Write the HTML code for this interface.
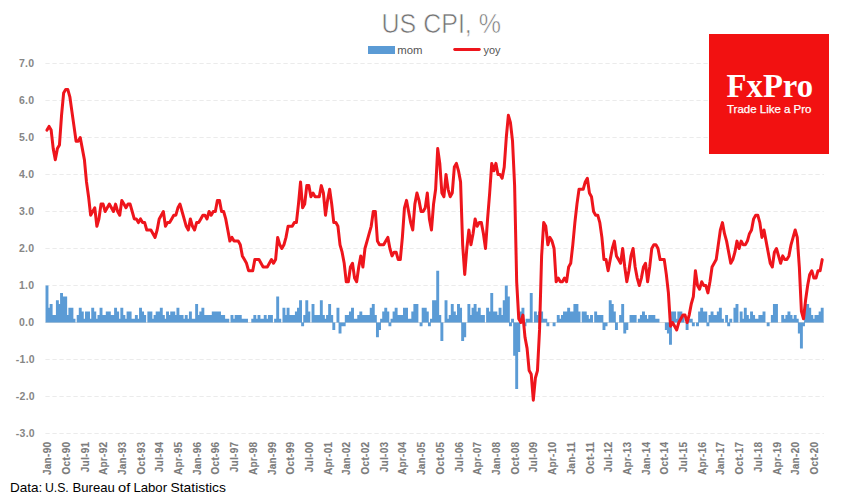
<!DOCTYPE html>
<html><head><meta charset="utf-8"><title>US CPI</title>
<style>html,body{margin:0;padding:0;background:#fff;}body{width:860px;height:500px;position:relative;overflow:hidden;font-family:"Liberation Sans",sans-serif;}</style></head>
<body>
<svg width="860" height="500" viewBox="0 0 860 500" style="position:absolute;left:0;top:0">
<rect width="860" height="500" fill="#fff"/>
<line x1="45.4" x2="824.0" y1="433.50" y2="433.50" stroke="#ebebeb" stroke-width="1" stroke-dasharray="4.3 2.7"/>
<line x1="45.4" x2="824.0" y1="396.50" y2="396.50" stroke="#ebebeb" stroke-width="1" stroke-dasharray="4.3 2.7"/>
<line x1="45.4" x2="824.0" y1="359.50" y2="359.50" stroke="#ebebeb" stroke-width="1" stroke-dasharray="4.3 2.7"/>
<line x1="45.4" x2="824.0" y1="322.50" y2="322.50" stroke="#d9d9d9" stroke-width="1"/>
<line x1="45.4" x2="824.0" y1="285.50" y2="285.50" stroke="#ebebeb" stroke-width="1" stroke-dasharray="4.3 2.7"/>
<line x1="45.4" x2="824.0" y1="248.50" y2="248.50" stroke="#ebebeb" stroke-width="1" stroke-dasharray="4.3 2.7"/>
<line x1="45.4" x2="824.0" y1="211.50" y2="211.50" stroke="#ebebeb" stroke-width="1" stroke-dasharray="4.3 2.7"/>
<line x1="45.4" x2="824.0" y1="174.50" y2="174.50" stroke="#ebebeb" stroke-width="1" stroke-dasharray="4.3 2.7"/>
<line x1="45.4" x2="824.0" y1="137.50" y2="137.50" stroke="#ebebeb" stroke-width="1" stroke-dasharray="4.3 2.7"/>
<line x1="45.4" x2="824.0" y1="100.50" y2="100.50" stroke="#ebebeb" stroke-width="1" stroke-dasharray="4.3 2.7"/>
<line x1="45.4" x2="824.0" y1="63.50" y2="63.50" stroke="#ebebeb" stroke-width="1" stroke-dasharray="4.3 2.7"/>
<path d="M45.53 322.50H48.45V285.50H45.53ZM47.61 322.50H50.53V307.70H47.61ZM49.69 322.50H52.60V304.00H49.69ZM51.76 322.50H54.68V315.10H51.76ZM53.84 322.50H56.76V315.10H53.84ZM55.92 322.50H58.84V300.30H55.92ZM58.00 322.50H60.92V304.00H58.00ZM60.08 322.50H63.00V292.90H60.08ZM62.16 322.50H65.07V296.60H62.16ZM64.23 322.50H67.15V296.60H64.23ZM66.31 322.50H69.23V315.10H66.31ZM68.39 322.50H71.31V307.70H68.39ZM70.47 322.50H73.39V307.70H70.47ZM72.55 322.50H75.47V318.80H72.55ZM76.70 322.50H79.62V315.10H76.70ZM78.78 322.50H81.70V307.70H78.78ZM80.86 322.50H83.78V311.40H80.86ZM82.94 322.50H85.86V318.80H82.94ZM85.02 322.50H87.94V311.40H85.02ZM87.10 322.50H90.01V311.40H87.10ZM89.17 322.50H92.09V318.80H89.17ZM91.25 322.50H94.17V307.70H91.25ZM93.33 322.50H96.25V311.40H93.33ZM95.41 322.50H98.33V318.80H95.41ZM97.49 322.50H100.41V315.10H97.49ZM99.57 322.50H102.48V307.70H99.57ZM101.64 322.50H104.56V315.10H101.64ZM103.72 322.50H106.64V315.10H103.72ZM105.80 322.50H108.72V311.40H105.80ZM107.88 322.50H110.80V311.40H107.88ZM109.96 322.50H112.88V315.10H109.96ZM112.04 322.50H114.95V315.10H112.04ZM114.11 322.50H117.03V307.70H114.11ZM116.19 322.50H119.11V311.40H116.19ZM118.27 322.50H121.19V318.80H118.27ZM120.35 322.50H123.27V307.70H120.35ZM122.43 322.50H125.35V315.10H122.43ZM124.51 322.50H127.42V318.80H124.51ZM126.58 322.50H129.50V311.40H126.58ZM128.66 322.50H131.58V311.40H128.66ZM130.74 322.50H133.66V318.80H130.74ZM132.82 322.50H135.74V318.80H132.82ZM134.90 322.50H137.82V315.10H134.90ZM136.98 322.50H139.89V318.80H136.98ZM139.05 322.50H141.97V307.70H139.05ZM141.13 322.50H144.05V311.40H141.13ZM143.21 322.50H146.13V315.10H143.21ZM147.37 322.50H150.28V311.40H147.37ZM149.45 322.50H152.36V311.40H149.45ZM151.52 322.50H154.44V318.80H151.52ZM153.60 322.50H156.52V315.10H153.60ZM155.68 322.50H158.60V311.40H155.68ZM157.76 322.50H160.68V311.40H157.76ZM159.84 322.50H162.75V307.70H159.84ZM161.91 322.50H164.83V315.10H161.91ZM163.99 322.50H166.91V318.80H163.99ZM166.07 322.50H168.99V311.40H166.07ZM168.15 322.50H171.07V315.10H168.15ZM170.23 322.50H173.15V311.40H170.23ZM172.31 322.50H175.22V311.40H172.31ZM174.38 322.50H177.30V315.10H174.38ZM176.46 322.50H179.38V307.70H176.46ZM178.54 322.50H181.46V315.10H178.54ZM180.62 322.50H183.54V315.10H180.62ZM182.70 322.50H185.62V318.80H182.70ZM184.78 322.50H187.69V315.10H184.78ZM186.85 322.50H189.77V318.80H186.85ZM188.93 322.50H191.85V311.40H188.93ZM191.01 322.50H193.93V318.80H191.01ZM193.09 322.50H196.01V318.80H193.09ZM195.17 322.50H198.09V304.00H195.17ZM197.25 322.50H200.16V315.10H197.25ZM199.32 322.50H202.24V311.40H199.32ZM201.40 322.50H204.32V307.70H201.40ZM203.48 322.50H206.40V315.10H203.48ZM205.56 322.50H208.48V315.10H205.56ZM207.64 322.50H210.56V315.10H207.64ZM209.72 322.50H212.63V315.10H209.72ZM211.79 322.50H214.71V311.40H211.79ZM213.87 322.50H216.79V311.40H213.87ZM215.95 322.50H218.87V311.40H215.95ZM218.03 322.50H220.95V311.40H218.03ZM220.11 322.50H223.03V315.10H220.11ZM222.19 322.50H225.10V315.10H222.19ZM224.26 322.50H227.18V318.80H224.26ZM226.34 322.50H229.26V318.80H226.34ZM230.50 322.50H233.42V315.10H230.50ZM232.58 322.50H235.50V318.80H232.58ZM234.66 322.50H237.57V315.10H234.66ZM236.73 322.50H239.65V315.10H236.73ZM238.81 322.50H241.73V315.10H238.81ZM240.89 322.50H243.81V318.80H240.89ZM242.97 322.50H245.89V318.80H242.97ZM245.05 322.50H247.97V318.80H245.05ZM251.28 322.50H254.20V318.80H251.28ZM253.36 322.50H256.28V315.10H253.36ZM255.44 322.50H258.36V318.80H255.44ZM257.52 322.50H260.43V315.10H257.52ZM259.59 322.50H262.51V318.80H259.59ZM261.67 322.50H264.59V318.80H261.67ZM263.75 322.50H266.67V315.10H263.75ZM265.83 322.50H268.75V318.80H265.83ZM267.91 322.50H270.83V315.10H267.91ZM269.99 322.50H272.90V315.10H269.99ZM274.14 322.50H277.06V318.80H274.14ZM276.22 322.50H279.14V296.60H276.22ZM278.30 322.50H281.22V318.80H278.30ZM282.46 322.50H285.37V307.70H282.46ZM284.53 322.50H287.45V315.10H284.53ZM286.61 322.50H289.53V307.70H286.61ZM288.69 322.50H291.61V315.10H288.69ZM290.77 322.50H293.69V315.10H290.77ZM292.85 322.50H295.77V315.10H292.85ZM294.93 322.50H297.84V311.40H294.93ZM297.00 322.50H299.92V307.70H297.00ZM299.08 322.50H302.00V300.30H299.08ZM301.16 322.50H304.08V326.20H301.16ZM303.24 322.50H306.16V315.10H303.24ZM305.32 322.50H308.24V300.30H305.32ZM307.40 322.50H310.31V311.40H307.40ZM311.55 322.50H314.47V304.00H311.55ZM313.63 322.50H316.55V315.10H313.63ZM315.71 322.50H318.63V315.10H315.71ZM317.79 322.50H320.71V315.10H317.79ZM319.87 322.50H322.78V300.30H319.87ZM321.94 322.50H324.86V315.10H321.94ZM324.02 322.50H326.94V318.80H324.02ZM326.10 322.50H329.02V315.10H326.10ZM328.18 322.50H331.10V304.00H328.18ZM330.26 322.50H333.18V315.10H330.26ZM332.34 322.50H335.25V329.90H332.34ZM336.49 322.50H339.41V307.70H336.49ZM338.57 322.50H341.49V333.60H338.57ZM340.65 322.50H343.57V326.20H340.65ZM342.73 322.50H345.65V326.20H342.73ZM344.81 322.50H347.72V315.10H344.81ZM346.88 322.50H349.80V315.10H346.88ZM348.96 322.50H351.88V311.40H348.96ZM351.04 322.50H353.96V307.70H351.04ZM353.12 322.50H356.04V318.80H353.12ZM355.20 322.50H358.12V318.80H355.20ZM357.27 322.50H360.19V315.10H357.27ZM359.35 322.50H362.27V311.40H359.35ZM361.43 322.50H364.35V315.10H361.43ZM363.51 322.50H366.43V315.10H363.51ZM365.59 322.50H368.51V315.10H365.59ZM367.67 322.50H370.58V315.10H367.67ZM369.74 322.50H372.66V307.70H369.74ZM371.82 322.50H374.74V304.00H371.82ZM373.90 322.50H376.82V315.10H373.90ZM375.98 322.50H378.90V337.30H375.98ZM378.06 322.50H380.98V329.90H378.06ZM380.14 322.50H383.05V318.80H380.14ZM382.21 322.50H385.13V311.40H382.21ZM384.29 322.50H387.21V307.70H384.29ZM386.37 322.50H389.29V311.40H386.37ZM388.45 322.50H391.37V326.20H388.45ZM390.53 322.50H393.45V318.80H390.53ZM392.61 322.50H395.52V311.40H392.61ZM394.68 322.50H397.60V307.70H394.68ZM396.76 322.50H399.68V315.10H396.76ZM398.84 322.50H401.76V315.10H398.84ZM400.92 322.50H403.84V315.10H400.92ZM403.00 322.50H405.92V307.70H403.00ZM405.08 322.50H407.99V307.70H405.08ZM407.15 322.50H410.07V318.80H407.15ZM409.23 322.50H412.15V318.80H409.23ZM411.31 322.50H414.23V311.40H411.31ZM413.39 322.50H416.31V304.00H413.39ZM415.47 322.50H418.39V304.00H415.47ZM419.62 322.50H422.54V326.20H419.62ZM421.70 322.50H424.62V307.70H421.70ZM423.78 322.50H426.70V307.70H423.78ZM425.86 322.50H428.78V311.40H425.86ZM427.94 322.50H430.86V326.20H427.94ZM430.02 322.50H432.93V318.80H430.02ZM432.09 322.50H435.01V300.30H432.09ZM434.17 322.50H437.09V300.30H434.17ZM436.25 322.50H439.17V270.70H436.25ZM438.33 322.50H441.25V315.10H438.33ZM440.41 322.50H443.33V341.00H440.41ZM444.56 322.50H447.48V300.30H444.56ZM446.64 322.50H449.56V318.80H446.64ZM448.72 322.50H451.64V315.10H448.72ZM450.80 322.50H453.72V304.00H450.80ZM452.88 322.50H455.80V311.40H452.88ZM454.96 322.50H457.87V315.10H454.96ZM457.03 322.50H459.95V304.00H457.03ZM459.11 322.50H462.03V307.70H459.11ZM461.19 322.50H464.11V341.00H461.19ZM463.27 322.50H466.19V337.30H463.27ZM467.42 322.50H470.34V304.00H467.42ZM469.50 322.50H472.42V315.10H469.50ZM471.58 322.50H474.50V307.70H471.58ZM473.66 322.50H476.58V304.00H473.66ZM475.74 322.50H478.66V311.40H475.74ZM477.82 322.50H480.73V307.70H477.82ZM479.89 322.50H482.81V315.10H479.89ZM481.97 322.50H484.89V315.10H481.97ZM486.13 322.50H489.05V307.70H486.13ZM488.21 322.50H491.13V311.40H488.21ZM490.29 322.50H493.20V292.90H490.29ZM492.36 322.50H495.28V311.40H492.36ZM494.44 322.50H497.36V311.40H494.44ZM496.52 322.50H499.44V315.10H496.52ZM498.60 322.50H501.52V307.70H498.60ZM500.68 322.50H503.60V315.10H500.68ZM502.76 322.50H505.67V300.30H502.76ZM504.83 322.50H507.75V285.50H504.83ZM506.91 322.50H509.83V296.60H506.91ZM508.99 322.50H511.91V326.20H508.99ZM511.07 322.50H513.99V318.80H511.07ZM513.15 322.50H516.07V355.80H513.15ZM515.23 322.50H518.14V389.10H515.23ZM517.30 322.50H520.22V352.10H517.30ZM519.38 322.50H522.30V311.40H519.38ZM521.46 322.50H524.38V307.70H521.46ZM523.54 322.50H526.46V326.20H523.54ZM525.62 322.50H528.54V318.80H525.62ZM527.70 322.50H530.61V318.80H527.70ZM529.77 322.50H532.69V292.90H529.77ZM533.93 322.50H536.85V311.40H533.93ZM536.01 322.50H538.93V315.10H536.01ZM538.09 322.50H541.01V311.40H538.09ZM540.17 322.50H543.08V311.40H540.17ZM542.24 322.50H545.16V318.80H542.24ZM544.32 322.50H547.24V318.80H544.32ZM546.40 322.50H549.32V326.20H546.40ZM552.64 322.50H555.55V326.20H552.64ZM556.79 322.50H559.71V315.10H556.79ZM558.87 322.50H561.79V318.80H558.87ZM560.95 322.50H563.87V315.10H560.95ZM563.03 322.50H565.95V311.40H563.03ZM565.11 322.50H568.02V311.40H565.11ZM567.18 322.50H570.10V307.70H567.18ZM569.26 322.50H572.18V311.40H569.26ZM571.34 322.50H574.26V311.40H571.34ZM573.42 322.50H576.34V304.00H573.42ZM575.50 322.50H578.41V304.00H575.50ZM577.57 322.50H580.49V311.40H577.57ZM581.73 322.50H584.65V311.40H581.73ZM583.81 322.50H586.73V311.40H583.81ZM585.89 322.50H588.81V315.10H585.89ZM587.97 322.50H590.88V318.80H587.97ZM590.04 322.50H592.96V315.10H590.04ZM594.20 322.50H597.12V311.40H594.20ZM596.28 322.50H599.20V315.10H596.28ZM598.36 322.50H601.28V315.10H598.36ZM600.44 322.50H603.35V315.10H600.44ZM602.51 322.50H605.43V329.90H602.51ZM604.59 322.50H607.51V326.20H604.59ZM608.75 322.50H611.67V300.30H608.75ZM610.83 322.50H613.75V304.00H610.83ZM612.91 322.50H615.82V311.40H612.91ZM614.98 322.50H617.90V329.90H614.98ZM619.14 322.50H622.06V315.10H619.14ZM621.22 322.50H624.14V304.00H621.22ZM623.30 322.50H626.22V333.60H623.30ZM625.38 322.50H628.29V329.90H625.38ZM629.53 322.50H632.45V315.10H629.53ZM631.61 322.50H634.53V315.10H631.61ZM633.69 322.50H636.61V315.10H633.69ZM637.85 322.50H640.76V318.80H637.85ZM639.92 322.50H642.84V315.10H639.92ZM642.00 322.50H644.92V311.40H642.00ZM644.08 322.50H647.00V315.10H644.08ZM646.16 322.50H649.08V318.80H646.16ZM648.24 322.50H651.16V315.10H648.24ZM650.32 322.50H653.23V315.10H650.32ZM652.39 322.50H655.31V315.10H652.39ZM654.47 322.50H657.39V318.80H654.47ZM656.55 322.50H659.47V318.80H656.55ZM664.86 322.50H667.78V329.90H664.86ZM666.94 322.50H669.86V333.60H666.94ZM669.02 322.50H671.94V344.70H669.02ZM671.10 322.50H674.02V311.40H671.10ZM673.18 322.50H676.09V311.40H673.18ZM675.25 322.50H678.17V318.80H675.25ZM677.33 322.50H680.25V311.40H677.33ZM679.41 322.50H682.33V311.40H679.41ZM681.49 322.50H684.41V315.10H681.49ZM685.65 322.50H688.56V329.90H685.65ZM687.72 322.50H690.64V318.80H687.72ZM689.80 322.50H692.72V318.80H689.80ZM691.88 322.50H694.80V326.20H691.88ZM696.04 322.50H698.96V326.20H696.04ZM698.12 322.50H701.03V311.40H698.12ZM700.19 322.50H703.11V307.70H700.19ZM702.27 322.50H705.19V311.40H702.27ZM704.35 322.50H707.27V311.40H704.35ZM706.43 322.50H709.35V326.20H706.43ZM708.51 322.50H711.43V315.10H708.51ZM710.59 322.50H713.50V311.40H710.59ZM712.66 322.50H715.58V315.10H712.66ZM714.74 322.50H717.66V315.10H714.74ZM716.82 322.50H719.74V311.40H716.82ZM718.90 322.50H721.82V307.70H718.90ZM720.98 322.50H723.90V318.80H720.98ZM725.13 322.50H728.05V315.10H725.13ZM727.21 322.50H730.13V326.20H727.21ZM729.29 322.50H732.21V318.80H729.29ZM733.45 322.50H736.37V307.70H733.45ZM735.53 322.50H738.44V304.00H735.53ZM739.68 322.50H742.60V311.40H739.68ZM741.76 322.50H744.68V318.80H741.76ZM743.84 322.50H746.76V307.70H743.84ZM745.92 322.50H748.84V315.10H745.92ZM748.00 322.50H750.91V318.80H748.00ZM750.07 322.50H752.99V311.40H750.07ZM752.15 322.50H755.07V315.10H752.15ZM754.23 322.50H757.15V318.80H754.23ZM756.31 322.50H759.23V318.80H756.31ZM758.39 322.50H761.31V315.10H758.39ZM760.47 322.50H763.38V315.10H760.47ZM762.54 322.50H765.46V311.40H762.54ZM766.70 322.50H769.62V326.20H766.70ZM770.86 322.50H773.77V315.10H770.86ZM772.94 322.50H775.85V304.00H772.94ZM775.01 322.50H777.93V304.00H775.01ZM781.25 322.50H784.17V315.10H781.25ZM783.33 322.50H786.24V318.80H783.33ZM785.40 322.50H788.32V315.10H785.40ZM787.48 322.50H790.40V311.40H787.48ZM789.56 322.50H792.48V315.10H789.56ZM791.64 322.50H794.56V318.80H791.64ZM793.72 322.50H796.64V315.10H793.72ZM795.80 322.50H798.71V318.80H795.80ZM797.87 322.50H800.79V333.60H797.87ZM799.95 322.50H802.87V348.40H799.95ZM802.03 322.50H804.95V326.20H802.03ZM804.11 322.50H807.03V304.00H804.11ZM806.19 322.50H809.11V304.00H806.19ZM808.27 322.50H811.18V307.70H808.27ZM810.34 322.50H813.26V315.10H810.34ZM812.42 322.50H815.34V318.80H812.42ZM814.50 322.50H817.42V315.10H814.50ZM816.58 322.50H819.50V315.10H816.58ZM818.66 322.50H821.58V311.40H818.66ZM820.74 322.50H823.65V307.70H820.74Z" fill="#5b9bd5"/>
<path d="M46.99 130.10L49.07 126.40L51.15 130.10L53.22 148.60L55.30 159.70L57.38 148.60L59.46 144.90L61.54 115.30L63.62 93.10L65.69 89.40L67.77 89.40L69.85 96.80L71.93 111.60L74.01 126.40L76.09 141.20L78.16 141.20L80.24 137.50L82.32 148.60L84.40 159.70L86.48 181.90L88.56 196.70L90.63 215.20L92.71 211.50L94.79 207.80L96.87 226.30L98.95 218.90L101.02 204.10L103.10 204.10L105.18 211.50L107.26 207.80L109.34 204.10L111.42 207.80L113.49 211.50L115.57 204.10L117.65 211.50L119.73 215.20L121.81 200.40L123.89 204.10L125.96 207.80L128.04 204.10L130.12 204.10L132.20 211.50L134.28 218.90L136.36 218.90L138.43 222.60L140.51 218.90L142.59 222.60L144.67 222.60L146.75 230.00L148.83 230.00L150.90 230.00L152.98 233.70L155.06 237.40L157.14 230.00L159.22 218.90L161.30 215.20L163.37 211.50L165.45 226.30L167.53 222.60L169.61 222.60L171.69 218.90L173.77 215.20L175.84 215.20L177.92 207.80L180.00 204.10L182.08 211.50L184.16 218.90L186.24 226.30L188.31 230.00L190.39 218.90L192.47 226.30L194.55 230.00L196.63 222.60L198.71 222.60L200.78 218.90L202.86 215.20L204.94 215.20L207.02 218.90L209.10 211.50L211.17 215.20L213.25 211.50L215.33 211.50L217.41 200.40L219.49 200.40L221.57 211.50L223.64 211.50L225.72 218.90L227.80 230.00L229.88 241.10L231.96 237.40L234.04 241.10L236.11 241.10L238.19 241.10L240.27 244.80L242.35 255.90L244.43 259.60L246.51 263.30L248.58 270.70L250.66 270.70L252.74 270.70L254.82 259.60L256.90 259.60L258.98 259.60L261.05 263.30L263.13 267.00L265.21 267.00L267.29 267.00L269.37 263.30L271.45 259.60L273.52 263.30L275.60 259.60L277.68 237.40L279.76 244.80L281.84 248.50L283.92 244.80L285.99 237.40L288.07 226.30L290.15 226.30L292.23 226.30L294.31 222.60L296.39 222.60L298.46 204.10L300.54 181.90L302.62 207.80L304.70 204.10L306.78 185.60L308.85 185.60L310.93 196.70L313.01 193.00L315.09 196.70L317.17 196.70L319.25 196.70L321.32 185.60L323.40 193.00L325.48 215.20L327.56 200.40L329.64 189.30L331.72 204.10L333.79 222.60L335.87 222.60L337.95 226.30L340.03 244.80L342.11 252.20L344.19 263.30L346.26 281.80L348.34 281.80L350.42 267.00L352.50 263.30L354.58 278.10L356.66 281.80L358.73 267.00L360.81 255.90L362.89 267.00L364.97 248.50L367.05 241.10L369.13 233.70L371.20 226.30L373.28 211.50L375.36 211.50L377.44 241.10L379.52 244.80L381.60 244.80L383.67 244.80L385.75 241.10L387.83 237.40L389.91 248.50L391.99 255.90L394.07 252.20L396.14 252.20L398.22 259.60L400.30 259.60L402.38 237.40L404.46 207.80L406.54 200.40L408.61 211.50L410.69 222.60L412.77 230.00L414.85 204.10L416.93 193.00L419.00 200.40L421.08 211.50L423.16 211.50L425.24 207.80L427.32 193.00L429.40 218.90L431.47 230.00L433.55 204.10L435.63 189.30L437.71 148.60L439.79 163.40L441.87 193.00L443.94 196.70L446.02 174.50L448.10 189.30L450.18 196.70L452.26 193.00L454.34 167.10L456.41 163.40L458.49 170.80L460.57 181.90L462.65 244.80L464.73 274.40L466.81 248.50L468.88 230.00L470.96 244.80L473.04 233.70L475.12 218.90L477.20 226.30L479.28 222.60L481.35 222.60L483.43 233.70L485.51 248.50L487.59 218.90L489.67 193.00L491.75 163.40L493.82 170.80L495.90 163.40L497.98 174.50L500.06 174.50L502.14 178.20L504.22 167.10L506.29 137.50L508.37 115.30L510.45 122.70L512.53 141.20L514.61 185.60L516.68 281.80L518.76 318.80L520.84 322.50L522.92 315.10L525.00 337.30L527.08 348.40L529.15 370.60L531.23 374.30L533.31 400.20L535.39 378.00L537.47 370.60L539.55 329.90L541.62 255.90L543.70 222.60L545.78 226.30L547.86 244.80L549.94 237.40L552.02 241.10L554.09 248.50L556.17 281.80L558.25 278.10L560.33 281.80L562.41 281.80L564.49 278.10L566.56 281.80L568.64 267.00L570.72 263.30L572.80 244.80L574.88 222.60L576.96 204.10L579.03 189.30L581.11 189.30L583.19 189.30L585.27 181.90L587.35 178.20L589.43 193.00L591.50 196.70L593.58 211.50L595.66 215.20L597.74 215.20L599.82 222.60L601.90 237.40L603.97 259.60L606.05 259.60L608.13 270.70L610.21 259.60L612.29 248.50L614.37 241.10L616.44 255.90L618.52 259.60L620.60 263.30L622.68 248.50L624.76 267.00L626.83 281.80L628.91 270.70L630.99 255.90L633.07 248.50L635.15 267.00L637.23 278.10L639.30 285.50L641.38 278.10L643.46 267.00L645.54 263.30L647.62 281.80L649.70 267.00L651.77 248.50L653.85 244.80L655.93 244.80L658.01 248.50L660.09 259.60L662.17 259.60L664.24 259.60L666.32 274.40L668.40 292.90L670.48 326.20L672.56 322.50L674.64 326.20L676.71 329.90L678.79 322.50L680.87 318.80L682.95 315.10L685.03 315.10L687.11 322.50L689.18 315.10L691.26 304.00L693.34 296.60L695.42 270.70L697.50 285.50L699.58 289.20L701.65 281.80L703.73 285.50L705.81 285.50L707.89 292.90L709.97 281.80L712.05 267.00L714.12 263.30L716.20 259.60L718.28 244.80L720.36 230.00L722.44 222.60L724.51 233.70L726.59 241.10L728.67 252.20L730.75 263.30L732.83 259.60L734.91 252.20L736.98 241.10L739.06 248.50L741.14 241.10L743.22 244.80L745.30 244.80L747.38 241.10L749.45 233.70L751.53 230.00L753.61 218.90L755.69 215.20L757.77 215.20L759.85 222.60L761.92 237.40L764.00 230.00L766.08 241.10L768.16 252.20L770.24 263.30L772.32 267.00L774.39 252.20L776.47 248.50L778.55 255.90L780.63 263.30L782.71 255.90L784.79 259.60L786.86 259.60L788.94 255.90L791.02 244.80L793.10 237.40L795.18 230.00L797.26 237.40L799.33 267.00L801.41 311.40L803.49 318.80L805.57 300.30L807.65 285.50L809.73 274.40L811.80 270.70L813.88 278.10L815.96 278.10L818.04 270.70L820.12 270.70L822.20 259.60" fill="none" stroke="#ee151c" stroke-width="3" stroke-linecap="round" stroke-linejoin="round"/>
<text x="34.9" y="436.7" text-anchor="end" letter-spacing="0.25" font-family="Liberation Sans, sans-serif" font-weight="bold" font-size="10.5" fill="#868686">-3.0</text>
<text x="34.9" y="399.7" text-anchor="end" letter-spacing="0.25" font-family="Liberation Sans, sans-serif" font-weight="bold" font-size="10.5" fill="#868686">-2.0</text>
<text x="34.9" y="362.7" text-anchor="end" letter-spacing="0.25" font-family="Liberation Sans, sans-serif" font-weight="bold" font-size="10.5" fill="#868686">-1.0</text>
<text x="34.4" y="325.7" text-anchor="end" letter-spacing="0.25" font-family="Liberation Sans, sans-serif" font-weight="bold" font-size="10.5" fill="#868686">0.0</text>
<text x="34.4" y="288.7" text-anchor="end" letter-spacing="0.25" font-family="Liberation Sans, sans-serif" font-weight="bold" font-size="10.5" fill="#868686">1.0</text>
<text x="34.4" y="251.7" text-anchor="end" letter-spacing="0.25" font-family="Liberation Sans, sans-serif" font-weight="bold" font-size="10.5" fill="#868686">2.0</text>
<text x="34.4" y="214.7" text-anchor="end" letter-spacing="0.25" font-family="Liberation Sans, sans-serif" font-weight="bold" font-size="10.5" fill="#868686">3.0</text>
<text x="34.4" y="177.7" text-anchor="end" letter-spacing="0.25" font-family="Liberation Sans, sans-serif" font-weight="bold" font-size="10.5" fill="#868686">4.0</text>
<text x="34.4" y="140.7" text-anchor="end" letter-spacing="0.25" font-family="Liberation Sans, sans-serif" font-weight="bold" font-size="10.5" fill="#868686">5.0</text>
<text x="34.4" y="103.7" text-anchor="end" letter-spacing="0.25" font-family="Liberation Sans, sans-serif" font-weight="bold" font-size="10.5" fill="#868686">6.0</text>
<text x="34.4" y="66.7" text-anchor="end" letter-spacing="0.25" font-family="Liberation Sans, sans-serif" font-weight="bold" font-size="10.5" fill="#868686">7.0</text>
<text transform="translate(51.09 441.6) rotate(-90)" text-anchor="end" font-family="Liberation Sans, sans-serif" font-weight="bold" font-size="10" letter-spacing="0.3" fill="#7c7c7c" stroke="#7c7c7c" stroke-width="0.12">Jan-90</text>
<text transform="translate(69.79 441.6) rotate(-90)" text-anchor="end" font-family="Liberation Sans, sans-serif" font-weight="bold" font-size="10" letter-spacing="0.3" fill="#7c7c7c" stroke="#7c7c7c" stroke-width="0.12">Oct-90</text>
<text transform="translate(88.50 441.6) rotate(-90)" text-anchor="end" font-family="Liberation Sans, sans-serif" font-weight="bold" font-size="10" letter-spacing="0.3" fill="#7c7c7c" stroke="#7c7c7c" stroke-width="0.12">Jul-91</text>
<text transform="translate(107.20 441.6) rotate(-90)" text-anchor="end" font-family="Liberation Sans, sans-serif" font-weight="bold" font-size="10" letter-spacing="0.3" fill="#7c7c7c" stroke="#7c7c7c" stroke-width="0.12">Apr-92</text>
<text transform="translate(125.91 441.6) rotate(-90)" text-anchor="end" font-family="Liberation Sans, sans-serif" font-weight="bold" font-size="10" letter-spacing="0.3" fill="#7c7c7c" stroke="#7c7c7c" stroke-width="0.12">Jan-93</text>
<text transform="translate(144.61 441.6) rotate(-90)" text-anchor="end" font-family="Liberation Sans, sans-serif" font-weight="bold" font-size="10" letter-spacing="0.3" fill="#7c7c7c" stroke="#7c7c7c" stroke-width="0.12">Oct-93</text>
<text transform="translate(163.32 441.6) rotate(-90)" text-anchor="end" font-family="Liberation Sans, sans-serif" font-weight="bold" font-size="10" letter-spacing="0.3" fill="#7c7c7c" stroke="#7c7c7c" stroke-width="0.12">Jul-94</text>
<text transform="translate(182.02 441.6) rotate(-90)" text-anchor="end" font-family="Liberation Sans, sans-serif" font-weight="bold" font-size="10" letter-spacing="0.3" fill="#7c7c7c" stroke="#7c7c7c" stroke-width="0.12">Apr-95</text>
<text transform="translate(200.73 441.6) rotate(-90)" text-anchor="end" font-family="Liberation Sans, sans-serif" font-weight="bold" font-size="10" letter-spacing="0.3" fill="#7c7c7c" stroke="#7c7c7c" stroke-width="0.12">Jan-96</text>
<text transform="translate(219.43 441.6) rotate(-90)" text-anchor="end" font-family="Liberation Sans, sans-serif" font-weight="bold" font-size="10" letter-spacing="0.3" fill="#7c7c7c" stroke="#7c7c7c" stroke-width="0.12">Oct-96</text>
<text transform="translate(238.14 441.6) rotate(-90)" text-anchor="end" font-family="Liberation Sans, sans-serif" font-weight="bold" font-size="10" letter-spacing="0.3" fill="#7c7c7c" stroke="#7c7c7c" stroke-width="0.12">Jul-97</text>
<text transform="translate(256.84 441.6) rotate(-90)" text-anchor="end" font-family="Liberation Sans, sans-serif" font-weight="bold" font-size="10" letter-spacing="0.3" fill="#7c7c7c" stroke="#7c7c7c" stroke-width="0.12">Apr-98</text>
<text transform="translate(275.55 441.6) rotate(-90)" text-anchor="end" font-family="Liberation Sans, sans-serif" font-weight="bold" font-size="10" letter-spacing="0.3" fill="#7c7c7c" stroke="#7c7c7c" stroke-width="0.12">Jan-99</text>
<text transform="translate(294.25 441.6) rotate(-90)" text-anchor="end" font-family="Liberation Sans, sans-serif" font-weight="bold" font-size="10" letter-spacing="0.3" fill="#7c7c7c" stroke="#7c7c7c" stroke-width="0.12">Oct-99</text>
<text transform="translate(312.95 441.6) rotate(-90)" text-anchor="end" font-family="Liberation Sans, sans-serif" font-weight="bold" font-size="10" letter-spacing="0.3" fill="#7c7c7c" stroke="#7c7c7c" stroke-width="0.12">Jul-00</text>
<text transform="translate(331.66 441.6) rotate(-90)" text-anchor="end" font-family="Liberation Sans, sans-serif" font-weight="bold" font-size="10" letter-spacing="0.3" fill="#7c7c7c" stroke="#7c7c7c" stroke-width="0.12">Apr-01</text>
<text transform="translate(350.36 441.6) rotate(-90)" text-anchor="end" font-family="Liberation Sans, sans-serif" font-weight="bold" font-size="10" letter-spacing="0.3" fill="#7c7c7c" stroke="#7c7c7c" stroke-width="0.12">Jan-02</text>
<text transform="translate(369.07 441.6) rotate(-90)" text-anchor="end" font-family="Liberation Sans, sans-serif" font-weight="bold" font-size="10" letter-spacing="0.3" fill="#7c7c7c" stroke="#7c7c7c" stroke-width="0.12">Oct-02</text>
<text transform="translate(387.77 441.6) rotate(-90)" text-anchor="end" font-family="Liberation Sans, sans-serif" font-weight="bold" font-size="10" letter-spacing="0.3" fill="#7c7c7c" stroke="#7c7c7c" stroke-width="0.12">Jul-03</text>
<text transform="translate(406.48 441.6) rotate(-90)" text-anchor="end" font-family="Liberation Sans, sans-serif" font-weight="bold" font-size="10" letter-spacing="0.3" fill="#7c7c7c" stroke="#7c7c7c" stroke-width="0.12">Apr-04</text>
<text transform="translate(425.18 441.6) rotate(-90)" text-anchor="end" font-family="Liberation Sans, sans-serif" font-weight="bold" font-size="10" letter-spacing="0.3" fill="#7c7c7c" stroke="#7c7c7c" stroke-width="0.12">Jan-05</text>
<text transform="translate(443.89 441.6) rotate(-90)" text-anchor="end" font-family="Liberation Sans, sans-serif" font-weight="bold" font-size="10" letter-spacing="0.3" fill="#7c7c7c" stroke="#7c7c7c" stroke-width="0.12">Oct-05</text>
<text transform="translate(462.59 441.6) rotate(-90)" text-anchor="end" font-family="Liberation Sans, sans-serif" font-weight="bold" font-size="10" letter-spacing="0.3" fill="#7c7c7c" stroke="#7c7c7c" stroke-width="0.12">Jul-06</text>
<text transform="translate(481.30 441.6) rotate(-90)" text-anchor="end" font-family="Liberation Sans, sans-serif" font-weight="bold" font-size="10" letter-spacing="0.3" fill="#7c7c7c" stroke="#7c7c7c" stroke-width="0.12">Apr-07</text>
<text transform="translate(500.00 441.6) rotate(-90)" text-anchor="end" font-family="Liberation Sans, sans-serif" font-weight="bold" font-size="10" letter-spacing="0.3" fill="#7c7c7c" stroke="#7c7c7c" stroke-width="0.12">Jan-08</text>
<text transform="translate(518.71 441.6) rotate(-90)" text-anchor="end" font-family="Liberation Sans, sans-serif" font-weight="bold" font-size="10" letter-spacing="0.3" fill="#7c7c7c" stroke="#7c7c7c" stroke-width="0.12">Oct-08</text>
<text transform="translate(537.41 441.6) rotate(-90)" text-anchor="end" font-family="Liberation Sans, sans-serif" font-weight="bold" font-size="10" letter-spacing="0.3" fill="#7c7c7c" stroke="#7c7c7c" stroke-width="0.12">Jul-09</text>
<text transform="translate(556.12 441.6) rotate(-90)" text-anchor="end" font-family="Liberation Sans, sans-serif" font-weight="bold" font-size="10" letter-spacing="0.3" fill="#7c7c7c" stroke="#7c7c7c" stroke-width="0.12">Apr-10</text>
<text transform="translate(574.82 441.6) rotate(-90)" text-anchor="end" font-family="Liberation Sans, sans-serif" font-weight="bold" font-size="10" letter-spacing="0.3" fill="#7c7c7c" stroke="#7c7c7c" stroke-width="0.12">Jan-11</text>
<text transform="translate(593.53 441.6) rotate(-90)" text-anchor="end" font-family="Liberation Sans, sans-serif" font-weight="bold" font-size="10" letter-spacing="0.3" fill="#7c7c7c" stroke="#7c7c7c" stroke-width="0.12">Oct-11</text>
<text transform="translate(612.23 441.6) rotate(-90)" text-anchor="end" font-family="Liberation Sans, sans-serif" font-weight="bold" font-size="10" letter-spacing="0.3" fill="#7c7c7c" stroke="#7c7c7c" stroke-width="0.12">Jul-12</text>
<text transform="translate(630.93 441.6) rotate(-90)" text-anchor="end" font-family="Liberation Sans, sans-serif" font-weight="bold" font-size="10" letter-spacing="0.3" fill="#7c7c7c" stroke="#7c7c7c" stroke-width="0.12">Apr-13</text>
<text transform="translate(649.64 441.6) rotate(-90)" text-anchor="end" font-family="Liberation Sans, sans-serif" font-weight="bold" font-size="10" letter-spacing="0.3" fill="#7c7c7c" stroke="#7c7c7c" stroke-width="0.12">Jan-14</text>
<text transform="translate(668.34 441.6) rotate(-90)" text-anchor="end" font-family="Liberation Sans, sans-serif" font-weight="bold" font-size="10" letter-spacing="0.3" fill="#7c7c7c" stroke="#7c7c7c" stroke-width="0.12">Oct-14</text>
<text transform="translate(687.05 441.6) rotate(-90)" text-anchor="end" font-family="Liberation Sans, sans-serif" font-weight="bold" font-size="10" letter-spacing="0.3" fill="#7c7c7c" stroke="#7c7c7c" stroke-width="0.12">Jul-15</text>
<text transform="translate(705.75 441.6) rotate(-90)" text-anchor="end" font-family="Liberation Sans, sans-serif" font-weight="bold" font-size="10" letter-spacing="0.3" fill="#7c7c7c" stroke="#7c7c7c" stroke-width="0.12">Apr-16</text>
<text transform="translate(724.46 441.6) rotate(-90)" text-anchor="end" font-family="Liberation Sans, sans-serif" font-weight="bold" font-size="10" letter-spacing="0.3" fill="#7c7c7c" stroke="#7c7c7c" stroke-width="0.12">Jan-17</text>
<text transform="translate(743.16 441.6) rotate(-90)" text-anchor="end" font-family="Liberation Sans, sans-serif" font-weight="bold" font-size="10" letter-spacing="0.3" fill="#7c7c7c" stroke="#7c7c7c" stroke-width="0.12">Oct-17</text>
<text transform="translate(761.87 441.6) rotate(-90)" text-anchor="end" font-family="Liberation Sans, sans-serif" font-weight="bold" font-size="10" letter-spacing="0.3" fill="#7c7c7c" stroke="#7c7c7c" stroke-width="0.12">Jul-18</text>
<text transform="translate(780.57 441.6) rotate(-90)" text-anchor="end" font-family="Liberation Sans, sans-serif" font-weight="bold" font-size="10" letter-spacing="0.3" fill="#7c7c7c" stroke="#7c7c7c" stroke-width="0.12">Apr-19</text>
<text transform="translate(799.28 441.6) rotate(-90)" text-anchor="end" font-family="Liberation Sans, sans-serif" font-weight="bold" font-size="10" letter-spacing="0.3" fill="#7c7c7c" stroke="#7c7c7c" stroke-width="0.12">Jan-20</text>
<text transform="translate(817.98 441.6) rotate(-90)" text-anchor="end" font-family="Liberation Sans, sans-serif" font-weight="bold" font-size="10" letter-spacing="0.3" fill="#7c7c7c" stroke="#7c7c7c" stroke-width="0.12">Oct-20</text>
<text x="381.6" y="32.8" textLength="119.3" lengthAdjust="spacingAndGlyphs" font-family="Liberation Sans, sans-serif" font-size="28" fill="#737373" stroke="#fff" stroke-width="0.6">US CPI, %</text>
<rect x="368" y="46" width="27" height="8" fill="#5b9bd5"/>
<text x="397.3" y="53.6" textLength="25.2" lengthAdjust="spacingAndGlyphs" font-family="Liberation Sans, sans-serif" font-size="11.6" fill="#555">mom</text>
<line x1="454.7" x2="479.3" y1="49.55" y2="49.55" stroke="#ee151c" stroke-width="2.9" stroke-linecap="round"/>
<text x="483.5" y="53.6" textLength="17" lengthAdjust="spacingAndGlyphs" font-family="Liberation Sans, sans-serif" font-size="11.6" fill="#555">yoy</text>
<rect x="709" y="34" width="120" height="120" fill="#f21111"/>
<text x="726.6" y="97.2" textLength="86.5" lengthAdjust="spacingAndGlyphs" font-family="Liberation Serif, serif" font-weight="bold" font-size="33" fill="#fff">FxPro</text>
<text x="727" y="112.8" textLength="84.5" lengthAdjust="spacingAndGlyphs" font-family="Liberation Sans, sans-serif" font-size="11.3" fill="#fff" stroke="#fff" stroke-width="0.25">Trade Like a Pro</text>
<text x="10.0" y="491.8" textLength="32.3" lengthAdjust="spacingAndGlyphs" font-family="Liberation Sans, sans-serif" font-size="13.3" fill="#000">Data:</text>
<text x="44.9" y="491.8" textLength="23.9" lengthAdjust="spacingAndGlyphs" font-family="Liberation Sans, sans-serif" font-size="13.3" fill="#000">U.S.</text>
<text x="72.5" y="491.8" textLength="42.3" lengthAdjust="spacingAndGlyphs" font-family="Liberation Sans, sans-serif" font-size="13.3" fill="#000">Bureau</text>
<text x="118.0" y="491.8" textLength="12.2" lengthAdjust="spacingAndGlyphs" font-family="Liberation Sans, sans-serif" font-size="13.3" fill="#000">of</text>
<text x="133.4" y="491.8" textLength="33.7" lengthAdjust="spacingAndGlyphs" font-family="Liberation Sans, sans-serif" font-size="13.3" fill="#000">Labor</text>
<text x="170.5" y="491.8" textLength="55.4" lengthAdjust="spacingAndGlyphs" font-family="Liberation Sans, sans-serif" font-size="13.3" fill="#000">Statistics</text>
</svg>
</body></html>
